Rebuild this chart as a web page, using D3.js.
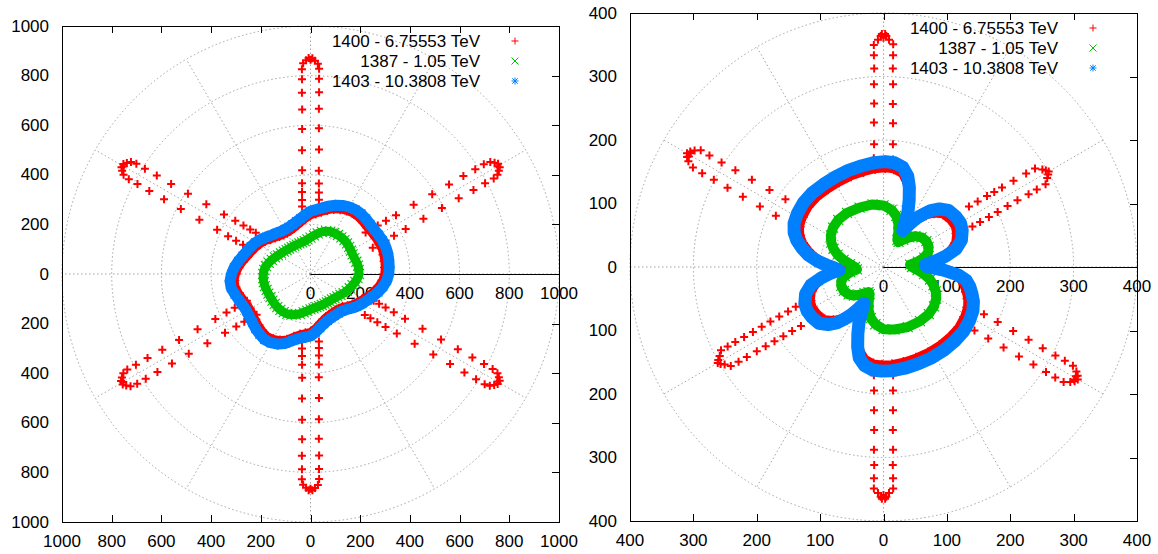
<!DOCTYPE html>
<html><head><meta charset="utf-8">
<script src="https://cdn.jsdelivr.net/npm/d3@7"></script>
<style>
body{margin:0;background:#fff;}
text{font-family:"Liberation Sans",Arial,sans-serif;font-size:17px;fill:#000;}
</style>
</head><body>
<svg id="chart" width="1158" height="554"></svg>
<script>
// ---------------- tick values ----------------
const leftAxisTicks = [-1000,-800,-600,-400,-200,0,200,400,600,800,1000];
const leftRingTicks = [200,400,600,800,1000];
const leftRLabels = [0,200,400,600,800,1000];
const rightAxisTicks = [-400,-300,-200,-100,0,100,200,300,400];
const rightRingTicks = [100,200,300,400];
const rightRLabels = [0,100,200,300,400];
const spokeAngles = [0,30,60,90,120,150,180,210,240,270,300,330];
const seriesNames = ["1400 - 6.75553 TeV","1387 - 1.05 TeV","1403 - 10.3808 TeV"];

// ---------------- LEFT panel data (angle deg, radius) ----------------
const leftAngles = [0,5,10,15,20,25,30,35,40,45,50,55,60,65,70,75,80,85,90,95,100,105,110,115,120,125,130,135,140,145,150,155,160,165,170,175,180,185,190,195,200,205,210,215,220,225,230,235,240,245,250,255,260,265,270,275,280,285,290,295,300,305,310,315,320,325,330,335,340,345,350,355];
const leftBlueR = [315,318,320,322,322,320,316,313,313,315,317,316,312,305,295,283,271,261,253,240,228,219,212,208,207,209,215,222,232,244,255,264,272,282,295,308,318,325,324,315,307,300,298,300,305,312,318,323,320,312,298,278,264,256,250,236,220,208,200,196,194,194,196,203,215,228,240,252,266,282,296,308];
const leftRedR = [293,296,298,299,300,298,294,292,291,293,295,294,290,283,274,262,250,240,232,220,208,199,192,188,187,189,194,201,211,223,233,242,250,260,273,286,296,303,302,294,286,279,277,279,284,290,296,301,298,290,277,257,243,235,229,215,199,188,180,176,174,174,176,182,194,206,218,230,244,260,274,286];
const leftGreenR = [195,195,194,191,188,187,188,190,192,193,193,192,191,189,184,176,166,156,147,140,135,132,131,131,131,132,134,136,140,145,151,158,166,174,182,187,190,191,191,190,188,187,186,187,188,189,189,188,186,181,174,166,157,149,143,139,136,134,133,132,132,133,134,137,141,147,154,161,168,175,183,190];

const leftSpike30Theta = [22.9,23.5,24.1,24.7,25.4,26.1,26.7,27.1,27.3,27.5,27.6, 37.1,36.5,35.9,35.3,34.6,33.9,33.3,32.9,32.7,32.5,32.4, 28.0,32.0,28.8,31.2,29.5,30.5,30.0];
const leftSpike30R     = [272,298,331,370,424,506,592,670,738,792,832, 278,303,334,372,418,500,586,664,731,786,826, 852,853,865,866,875,876,869];
const leftSpike90Theta = [82.9,83.5,84.1,84.7,85.4,86.1,86.7,87.1,87.3,87.5,87.6, 97.1,96.5,95.9,95.3,94.6,93.9,93.3,92.9,92.7,92.5,92.4, 88.0,92.0,88.8,91.2,89.5,90.5,90.0];
const leftSpike90R     = [275,301,330,366,418,503,589,667,734,788,828, 274,300,332,368,420,500,586,664,732,786,826, 848,850,860,862,870,871,864];
const leftSpike150Theta = [142.9,143.5,144.1,144.7,145.4,146.1,146.7,147.1,147.3,147.5,147.6, 157.1,156.5,155.9,155.3,154.6,153.9,153.3,152.9,152.7,152.5,152.4, 148.0,152.0,148.8,151.2,149.5,150.5,150.0];
const leftSpike150R     = [276,302,333,371,423,505,590,668,735,790,830, 270,296,328,365,416,498,584,662,730,785,825, 852,852,864,865,874,874,868];
const leftSpike210Theta = [202.9,203.5,204.1,204.7,205.4,206.1,206.7,207.1,207.3,207.5,207.6, 217.1,216.5,215.9,215.3,214.6,213.9,213.3,212.9,212.7,212.5,212.4, 208.0,212.0,208.8,211.2,209.5,210.5,210.0];
const leftSpike210R     = [278,303,334,372,424,506,592,670,738,792,832, 272,298,329,366,418,500,586,664,732,786,826, 853,854,866,867,876,877,870];
const leftSpike270Theta = [262.9,263.5,264.1,264.7,265.4,266.1,266.7,267.1,267.3,267.5,267.6, 277.1,276.5,275.9,275.3,274.6,273.9,273.3,272.9,272.7,272.5,272.4, 268.0,272.0,268.8,271.2,269.5,270.5,270.0];
const leftSpike270R     = [276,302,332,368,420,503,589,667,734,788,828, 274,300,330,366,418,501,587,665,733,787,827, 850,851,862,863,872,872,866];
const leftSpike330Theta = [322.9,323.5,324.1,324.7,325.4,326.1,326.7,327.1,327.3,327.5,327.6, 337.1,336.5,335.9,335.3,334.6,333.9,333.3,332.9,332.7,332.5,332.4, 328.0,332.0,328.8,331.2,329.5,330.5,330.0];
const leftSpike330R     = [274,300,332,370,422,505,591,669,736,790,830, 276,301,331,369,421,502,588,666,733,787,827, 851,852,864,865,874,875,868];

// ---------------- RIGHT panel data (angle deg, radius) ----------------
const rightBlueTheta = [0,3,7,10,14,19,25,30,35,41,46,50,53,56,59,62,64,66,69,72,75,79,84,89,95,102,110,118,126,134,141,148,154,159,163,167,171,175,178,181,184,187,190,194,199,205,210,215,221,226,230,233,236,239,242,244,246,249,252,255,259,264,269,275,282,290,298,306,314,321,328,334,339,343,347,351,354,357];
const rightBlueR = [70,66,85,100,118,130,137,140,139,136,127,116,104,92,78,65,78,95,113,132,148,160,165,166,165,163,162,161,161,162,162,160,157,151,143,132,120,104,90,78,70,86,100,118,130,137,139,138,135,126,115,103,90,76,65,78,95,113,132,148,158,163,164,164,163,162,162,162,162,162,160,157,152,146,140,132,118,95];
const rightRedR = [58,54,72,88,106,118,125,128,127,124,115,104,92,80,66,54,66,83,101,120,136,148,153,154,153,151,150,149,149,150,150,148,145,139,131,120,108,92,78,66,58,74,88,106,118,125,127,126,123,114,103,91,78,64,54,66,83,101,120,136,146,151,152,152,151,150,150,150,150,150,148,145,140,134,128,120,106,83];
const rightGreenTheta = [0,5,9,13,18,24,31,38,44,49,54,59,63,67,71,76,82,90,100,112,124,134,142,149,155,160,165,170,175,180,185,189,193,198,204,211,218,224,229,234,239,243,247,251,256,262,270,280,292,304,314,322,329,335,340,345,350,355];
const rightGreenR = [45,42,55,66,74,78,79,76,70,62,53,46,48,60,72,83,91,97,100,101,103,103,101,97,91,84,75,64,53,45,42,53,63,70,73,73,70,65,58,51,46,48,60,72,83,91,98,100,102,103,103,101,97,91,84,76,65,54];

const rightSpike30Theta = [24.4,24.9,25.3,25.7,26.1,26.4,26.6,26.8,27.0, 35.2,34.8,34.4,34.1,33.8,33.5,33.2,33.0, 28.5,31.5,29.3,30.7,30.0];
const rightSpike30R     = [154,168,184,200,218,236,256,271,287, 165,181,198,211,225,246,269,285, 294,294,298,298,301];
const rightSpike90Theta = [84.9,85.6,86.2,86.7,87.0,87.3,87.4,87.5, 95.1,94.4,93.8,93.3,93.0,92.7,92.6,92.5, 88.6,91.4,89.3,90.7,90.0,89.6,90.4];
const rightSpike90R     = [170,194,227,257,288,313,334,351, 172,194,228,258,288,313,334,350, 358,358,364,364,361,367,367];
const rightSpike150Theta = [145.4,146.0,146.5,146.9,147.2,147.4,147.5, 154.6,154.0,153.5,153.1,152.8,152.7,152.5, 148.4,151.6,149.2,150.8,150.0,149.5,150.5];
const rightSpike150R     = [188,217,249,279,304,326,342, 188,217,248,276,301,322,339, 350,350,355,355,358,353,353];
const rightSpike210Theta = [204.4,204.9,205.3,205.7,206.1,206.4,206.6,206.8,207.0,207.1, 215.5,215.0,214.6,214.2,213.9,213.6,213.3,213.1,212.9, 208.5,211.5,209.3,210.7,210.0];
const rightSpike210R     = [152,166,182,198,214,230,246,262,276,288, 160,176,192,208,224,240,258,273,287, 294,294,299,299,302];
const rightSpike270Theta = [264.9,265.6,266.2,266.7,267.0,267.3,267.4,267.5, 275.1,274.4,273.8,273.3,273.0,272.7,272.6,272.5, 268.6,271.4,269.3,270.7,270.0,269.6,270.4];
const rightSpike270R     = [171,195,226,257,288,312,333,349, 171,195,226,257,288,312,333,349, 356,356,362,362,359,365,365];
const rightSpike330Theta = [325.1,325.7,326.2,326.6,327.0,327.2,327.3,327.5, 334.9,334.3,333.8,333.4,333.0,332.8,332.7,332.5, 328.4,331.6,329.2,330.8,330.0,329.5,330.5];
const rightSpike330R     = [175,200,228,256,282,305,322,337, 175,200,228,256,282,305,322,337, 346,346,351,351,354,349,349];

// ---------------- helpers ----------------
const COLORS = {red:"#ff0000", green:"#00c000", blue:"#0080ff"};
const zipPts = (th, r) => th.map((t,i)=>({t:t, r:r[i]}));

function markerPath(kind, cx, cy, s){
  const p = `M${cx-s},${cy}H${cx+s}M${cx},${cy-s}V${cy+s}`;
  const x = `M${cx-s},${cy-s}L${cx+s},${cy+s}M${cx-s},${cy+s}L${cx+s},${cy-s}`;
  if(kind==="plus") return p;
  if(kind==="cross") return x;
  const k = s*0.78;
  return p + `M${cx-k},${cy-k}L${cx+k},${cy+k}M${cx-k},${cy+k}L${cx+k},${cy-k}`;
}

const svg = d3.select("#chart");

function drawPanel(cfg){
  const g = svg.append("g");
  const x = d3.scaleLinear().domain([-cfg.max, cfg.max]).range([cfg.x0, cfg.x1]);
  const y = d3.scaleLinear().domain([-cfg.max, cfg.max]).range([cfg.y1, cfg.y0]);
  const rad = Math.PI/180;
  const PX = d => x(d.r*Math.cos(d.t*rad));
  const PY = d => y(d.r*Math.sin(d.t*rad));

  // grid rings
  g.append("g").selectAll("ellipse").data(cfg.rings).join("ellipse")
    .attr("cx", x(0)).attr("cy", y(0))
    .attr("rx", d => x(d)-x(0)).attr("ry", d => y(0)-y(d))
    .attr("fill","none").attr("stroke","#9a9a9a").attr("stroke-width",0.9)
    .attr("stroke-dasharray","1.5,2.5");
  // spokes
  g.append("g").selectAll("line").data(spokeAngles).join("line")
    .attr("x1", x(0)).attr("y1", y(0))
    .attr("x2", d => PX({t:d, r:cfg.max})).attr("y2", d => PY({t:d, r:cfg.max}))
    .attr("stroke","#9a9a9a").attr("stroke-width",0.9).attr("stroke-dasharray","1.5,2.5");

  // frame
  g.append("rect").attr("x", cfg.x0+0.5).attr("y", cfg.y0+0.5)
    .attr("width", cfg.x1-cfg.x0).attr("height", cfg.y1-cfg.y0)
    .attr("fill","none").attr("stroke","#000").attr("stroke-width",1);

  // polar axis (solid)
  g.append("line").attr("x1", x(0)).attr("y1", Math.round(y(0))+0.5)
    .attr("x2", x(cfg.max)).attr("y2", Math.round(y(0))+0.5)
    .attr("stroke","#000").attr("stroke-width",1.2);

  // ticks: top, bottom (x), right (y)
  const inner = cfg.axisTicks.slice(1,-1);
  const tk = g.append("g").attr("stroke","#000").attr("stroke-width",1);
  inner.forEach(v=>{
    const xv = Math.round(x(v))+0.5;
    tk.append("line").attr("x1",xv).attr("x2",xv).attr("y1",cfg.y0).attr("y2",cfg.y0+7);
    tk.append("line").attr("x1",xv).attr("x2",xv).attr("y1",cfg.y1).attr("y2",cfg.y1-7);
    const yv = Math.round(y(v))+0.5;
    tk.append("line").attr("x1",cfg.x1).attr("x2",cfg.x1-7).attr("y1",yv).attr("y2",yv);
  });

  // tick labels
  g.append("g").selectAll("text").data(cfg.axisTicks).join("text")
    .attr("x", cfg.x0-13).attr("y", d => y(d)).attr("text-anchor","end")
    .attr("dominant-baseline","central").text(d => Math.abs(d));
  g.append("g").selectAll("text").data(cfg.axisTicks).join("text")
    .attr("x", d => x(d)).attr("y", cfg.y1+19).attr("text-anchor","middle")
    .attr("dominant-baseline","central").text(d => Math.abs(d));
  g.append("g").selectAll("text").data(cfg.rLabels).join("text")
    .attr("x", d => x(d)).attr("y", y(0)+19).attr("text-anchor","middle")
    .attr("dominant-baseline","central").text(d => d);

  const band = (pts, color, w) => {
    g.append("path").datum(pts)
      .attr("d", d3.line().x(PX).y(PY).curve(d3.curveLinearClosed))
      .attr("fill","none").attr("stroke",color).attr("stroke-width",w)
      .attr("stroke-linejoin","round");
  };
  const marks = (pts, kind, color, s, w) => {
    g.append("path")
      .attr("d", pts.map(d => markerPath(kind, PX(d), PY(d), s)).join(""))
      .attr("fill","none").attr("stroke",color).attr("stroke-width",w);
  };

  // series 1400 (red)
  band(cfg.red, COLORS.red, cfg.bandRed);
  marks(cfg.red, "plus", COLORS.red, 3.8, 1.5);
  marks(cfg.spikes, "plus", COLORS.red, 4.0, 2);
  // series 1387 (green)
  band(cfg.green, COLORS.green, cfg.bandGreen);
  marks(cfg.green, "cross", COLORS.green, 5, 1.1);
  // series 1403 (blue)
  band(cfg.blue, COLORS.blue, cfg.bandBlue);
  marks(cfg.blue, "star", COLORS.blue, 5.5, 1.1);

  // legend
  const kinds = ["plus","cross","star"];
  const cols = [COLORS.red, COLORS.green, COLORS.blue];
  seriesNames.forEach((nm,i)=>{
    const ly = cfg.y0 + 15 + i*20;
    g.append("text").attr("x", cfg.x1-79).attr("y", ly).attr("text-anchor","end")
      .attr("dominant-baseline","central").text(nm);
    g.append("path").attr("d", markerPath(kinds[i], cfg.x1-44, ly, 3.5))
      .attr("fill","none").attr("stroke",cols[i]).attr("stroke-width",1);
  });
}

drawPanel({
  x0:62, x1:559, y0:26, y1:522, max:1000,
  axisTicks: leftAxisTicks, rings: leftRingTicks, rLabels: leftRLabels,
  red: zipPts(leftAngles, leftRedR),
  green: zipPts(leftAngles, leftGreenR),
  blue: zipPts(leftAngles, leftBlueR),
  spikes: [].concat(
    zipPts(leftSpike30Theta, leftSpike30R), zipPts(leftSpike90Theta, leftSpike90R),
    zipPts(leftSpike150Theta, leftSpike150R), zipPts(leftSpike210Theta, leftSpike210R),
    zipPts(leftSpike270Theta, leftSpike270R), zipPts(leftSpike330Theta, leftSpike330R)),
  bandRed:6, bandGreen:9, bandBlue:11
});

drawPanel({
  x0:630, x1:1137, y0:13, y1:521, max:400,
  axisTicks: rightAxisTicks, rings: rightRingTicks, rLabels: rightRLabels,
  red: zipPts(rightBlueTheta, rightRedR),
  green: zipPts(rightGreenTheta, rightGreenR),
  blue: zipPts(rightBlueTheta, rightBlueR),
  spikes: [].concat(
    zipPts(rightSpike30Theta, rightSpike30R), zipPts(rightSpike90Theta, rightSpike90R),
    zipPts(rightSpike150Theta, rightSpike150R), zipPts(rightSpike210Theta, rightSpike210R),
    zipPts(rightSpike270Theta, rightSpike270R), zipPts(rightSpike330Theta, rightSpike330R)),
  bandRed:6, bandGreen:10, bandBlue:13
});
</script>
</body></html>
